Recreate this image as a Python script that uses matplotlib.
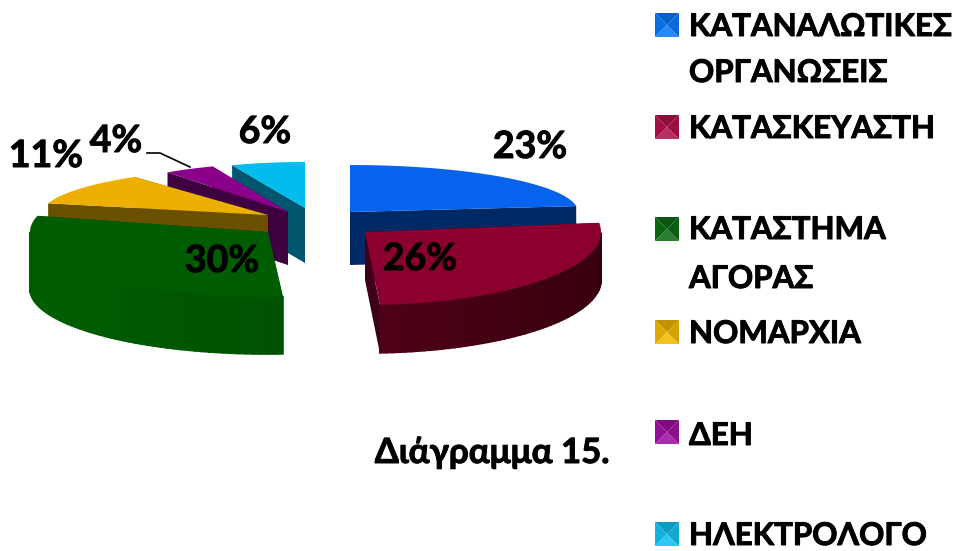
import numpy as np
import matplotlib
matplotlib.use('Agg')
import matplotlib.pyplot as plt
import matplotlib.colors as mcolors
import matplotlib.patheffects as pe

plt.rcParams['font.family'] = ['Lato', 'Noto Sans', 'DejaVu Sans']

# data
categories = ['ΚΑΤΑΝΑΛΩΤΙΚΕΣ\nΟΡΓΑΝΩΣΕΙΣ', 'ΚΑΤΑΣΚΕΥΑΣΤΗ', 'ΚΑΤΑΣΤΗΜΑ\nΑΓΟΡΑΣ', 'ΝΟΜΑΡΧΙΑ', 'ΔΕΗ', 'ΗΛΕΚΤΡΟΛΟΓΟ']
shares = [23, 26, 30, 11, 4, 6]
caption = 'Διάγραμμα 15.'

top_colors = ['#0563EE', '#8B0030', '#005C00', '#EDB000', '#8B008B', '#00BDEE']
cut_colors = ['#002A66', '#3C0018', '#004F00', '#6B5000', '#3F0040', '#00566E']
wall_left = ['#002A66', '#6A0022', '#005E00', '#6B5000', '#3F0040', '#00566E']
wall_right = ['#002A66', '#38000F', '#004600', '#6B5000', '#3F0040', '#00566E']
marker_colors = ['#0A78F5', '#B0104A', '#0B6B14', '#F2B800', '#A010A0', '#10C0F0']

# exploded slices: apex x, apex y, radius x, radius y, depth (pixels)
slice_geom = [(350, 212, 228, 47, 53),
              (365, 232, 236, 73, 48),
              (268, 232, 238, 65, 57),
              (268, 215, 227, 47, 50),
              (288, 212, 205, 49, 53),
              (305, 208, 198, 46, 55)]
draw_order = [5, 4, 0, 3, 2, 1]

label_pos = [(530, 147), (420, 259), (222, 261), (46, 156), (116, 141), (265, 132)]
legend_y = [25, 127, 229, 332, 432, 534]
legend_text_y = [[27, 73], [129], [230, 279], [334], [436], [536]]

thick = [pe.withStroke(linewidth=0.7, foreground='black')]


def arc_pts(g, a0, a1, n=80):
    t = np.radians(np.linspace(a0, a1, n))
    return g[0] + g[2] * np.cos(t), g[1] - g[3] * np.sin(t)


def draw_slice(ax, i, a0, a1):
    g = slice_geom[i]
    x0, y0, d = g[0], g[1], g[4]
    ax_, ay_ = arc_pts(g, a0, a1)

    # cut faces
    for ex, ey in ((ax_[0], ay_[0]), (ax_[-1], ay_[-1])):
        ax.fill([x0, ex, ex, x0], [y0, ey, ey + d, y0 + d], color=cut_colors[i], lw=0)

    # outer wall, front facing part only, in strips for the shading
    wl = np.array(mcolors.to_rgb(wall_left[i]))
    wr = np.array(mcolors.to_rgb(wall_right[i]))
    n = 60
    t = np.linspace(a0, a1, n + 1)
    for k in range(n):
        mid = np.radians((t[k] + t[k + 1]) / 2)
        if np.sin(mid) >= 0:
            continue
        xs, ys = arc_pts(g, t[k], t[k + 1], 3)
        f = (np.cos(mid) + 1) / 2
        ax.fill(np.r_[xs, xs[::-1]], np.r_[ys, ys[::-1] + d],
                color=wl + (wr - wl) * f, lw=1.2)

    ax.fill(np.r_[x0, ax_], np.r_[y0, ay_], color=top_colors[i], lw=0)


def draw_marker(ax, y, color):
    # little pyramid square of the legend
    x0, x1, y0, y1 = 655, 679, y - 12, y + 12
    xc, yc = (x0 + x1) / 2, (y0 + y1) / 2
    c = np.array(mcolors.to_rgb(color))
    light = c + (1 - c) * 0.12
    dark = c * 0.8
    ax.fill([x0, x1, xc], [y0, y0, yc], color=dark, lw=0)
    ax.fill([x0, x1, xc], [y1, y1, yc], color=light, lw=0)
    ax.fill([x0, x0, xc], [y0, y1, yc], color=c * 0.92, lw=0)
    ax.fill([x1, x1, xc], [y0, y1, yc], color=c * 0.88, lw=0)


fig = plt.figure(figsize=(9.57, 5.51), dpi=100)
ax = fig.add_axes([0, 0, 1, 1])
ax.set_xlim(0, 957)
ax.set_ylim(551, 0)
ax.axis('off')

ends = 90 - np.cumsum(shares) / sum(shares) * 360
starts = np.r_[90, ends[:-1]]

for i in draw_order:
    draw_slice(ax, i, starts[i], ends[i])

# leader line of the small slice
ax.plot([147, 160, 190], [153, 153, 167], color='black', lw=1.2)

for i, v in enumerate(shares):
    ax.text(label_pos[i][0], label_pos[i][1], f'{v}%', fontsize=27, fontweight='bold',
            ha='center', va='center', color='black', path_effects=thick)

for i, name in enumerate(categories):
    draw_marker(ax, legend_y[i], marker_colors[i])
    for line, y in zip(name.split('\n'), legend_text_y[i]):
        ax.text(689, y, line, fontsize=22.5, fontweight='bold', ha='left', va='center',
                color='black', path_effects=thick)

ax.text(492, 453, caption, fontsize=25, fontweight='bold', ha='center', va='center',
        color='black', path_effects=thick)

fig.savefig('out.png', dpi=100)
